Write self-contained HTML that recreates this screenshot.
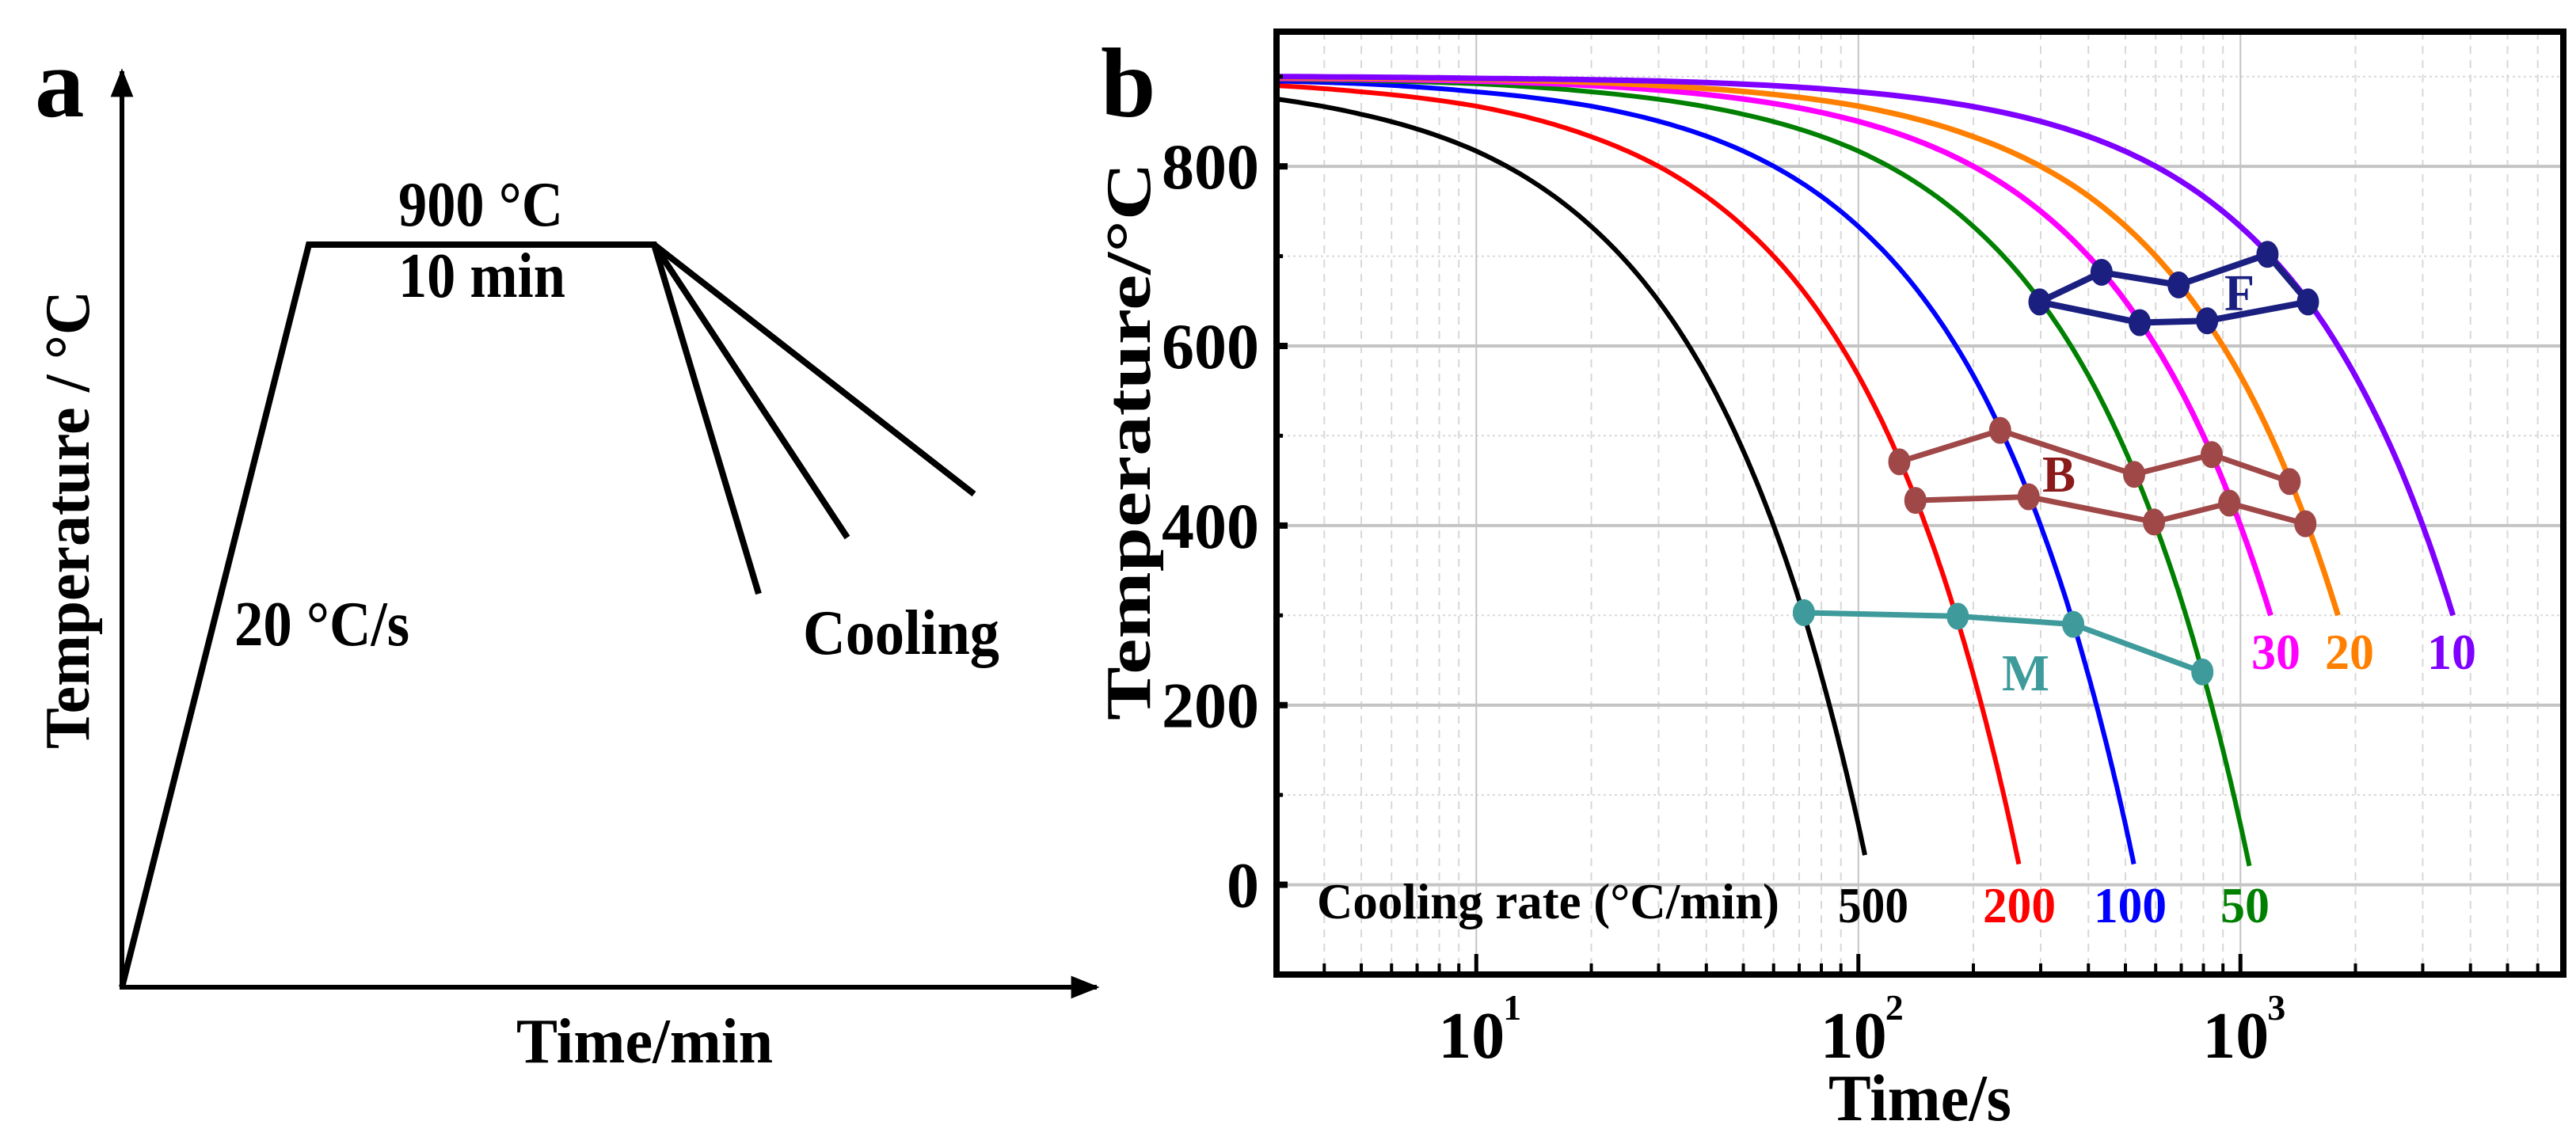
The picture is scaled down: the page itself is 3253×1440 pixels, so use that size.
<!DOCTYPE html>
<html><head><meta charset="utf-8"><style>
html,body{margin:0;padding:0;background:#fff}
svg{display:block}
text{font-family:"Liberation Serif",serif;font-weight:bold}
</style></head><body>
<svg id="fig" width="3253" height="1440" viewBox="0 0 3253 1440" xmlns="http://www.w3.org/2000/svg">
<defs>
<marker id="arr" viewBox="0 0 10 10" refX="9" refY="5" markerWidth="9" markerHeight="6" orient="auto" markerUnits="strokeWidth"><path d="M0,1 L10,5 L0,9 z" fill="#000"/></marker>
</defs>
<g>
 <text x="44" y="147" font-size="125">a</text>
 <line x1="154" y1="1250" x2="154" y2="90" stroke="#000" stroke-width="6" marker-end="url(#arr)"/>
 <line x1="151" y1="1247" x2="1385" y2="1247" stroke="#000" stroke-width="6" marker-end="url(#arr)"/>
 <polyline points="154,1247 390,309 826,309 958,750" fill="none" stroke="#000" stroke-width="8" stroke-linejoin="miter"/>
 <line x1="826" y1="309" x2="1070" y2="679" stroke="#000" stroke-width="8"/>
 <line x1="826" y1="309" x2="1230" y2="624" stroke="#000" stroke-width="8"/>
 <text x="503" y="285" font-size="80" textLength="208" lengthAdjust="spacingAndGlyphs">900 °C</text>
 <text x="503" y="375" font-size="80" textLength="211" lengthAdjust="spacingAndGlyphs">10 min</text>
 <text x="296" y="815" font-size="80" textLength="221" lengthAdjust="spacingAndGlyphs">20 °C/s</text>
 <text x="1014" y="826" font-size="80" textLength="248" lengthAdjust="spacingAndGlyphs">Cooling</text>
 <text x="652" y="1342" font-size="80" textLength="324" lengthAdjust="spacingAndGlyphs">Time/min</text>
 <text transform="translate(112,946) rotate(-90)" font-size="80" textLength="579" lengthAdjust="spacingAndGlyphs">Temperature / °C</text>
</g>
<g id="pb">
 <text x="1390" y="147" font-size="125">b</text>
</g>
</svg>
<script>
const xTicks=[10,100,1000];
const xTickSup=["1","2","3"];
const yTicks=[0,200,400,600,800];
const rates=["500","200","100","50","30","20","10"];
const colors=["#000000","#ff0000","#0000ff","#008000","#ff00ff","#ff8000","#8000ff"];
const t500=[3,5,10,20,30,40,50,60,70,80,90,100,104];
const T500=[875,858,817,733,650,567,483,400,317,233,150,67,33];
const t200=[3,5,10,20,30,50,70,100,130,160,190,220,250,263];
const T200=[890,883,867,833,800,733,667,567,467,367,267,167,67,23];
const t100=[3,5,10,20,50,100,150,200,250,300,350,400,450,500,526];
const T100=[895,892,883,867,817,733,650,567,483,400,317,233,150,67,23];
const t50=[3,10,20,50,100,200,300,400,500,600,700,800,900,1000,1055];
const T50=[897,892,883,858,817,733,650,567,483,400,317,233,150,67,21];
const t30=[3,10,30,100,200,300,400,500,600,700,800,900,1000,1100,1200];
const T30=[898,895,885,850,800,750,700,650,600,550,500,450,400,350,300];
const t20=[3,10,30,100,200,400,600,800,1000,1200,1400,1600,1800];
const T20=[899,897,890,867,833,767,700,633,567,500,433,367,300];
const t10=[3,10,30,100,300,600,1000,1400,1800,2200,2600,3000,3300,3600];
const T10=[900,898,895,883,850,800,733,667,600,533,467,400,350,300];
const fTop_t=[298,433,689,1177];const fTop_T=[649,682,668,702];
const fBot_t=[298,545,818,1502];const fBot_T=[649,626,628,649];
const bTop_t=[128,235,527,841,1345];const bTop_T=[471,506,457,479,449];
const bBot_t=[141,279,594,935,1479];const bBot_T=[428,432,404,425,402];
const m_t=[72,182,365,795];const m_T=[303,299,290,237];

const NS="http://www.w3.org/2000/svg";
const g=document.getElementById('pb');
const L=1612,R=3237,Tp=40,B=1231;
const xmin=3,xmax=7000,ymin=-100,ymax=950;
function sx(t){return L+(Math.log10(t)-Math.log10(xmin))/(Math.log10(xmax)-Math.log10(xmin))*(R-L);}
function sy(v){return B-(v-ymin)/(ymax-ymin)*(B-Tp);}
function mk(tag,attrs){const e=document.createElementNS(NS,tag);for(const k in attrs)e.setAttribute(k,attrs[k]);g.appendChild(e);return e;}
for(let d=1;d<=1000;d*=10){for(let k=2;k<=9;k++){const t=d*k;if(t<xmin||t>xmax)continue;const e=mk('line',{x1:sx(t),x2:sx(t),y1:Tp,y2:B,stroke:'#d8d8d8','stroke-width':2,'stroke-dasharray':'10,8'});

}}
for(let v=-100;v<=900;v+=200){const e=mk('line',{x1:L,x2:R,y1:sy(v),y2:sy(v),stroke:'#d8d8d8','stroke-width':2,'stroke-dasharray':'3,4'});

}
xTicks.forEach(t=>{const e=mk('line',{x1:sx(t),x2:sx(t),y1:Tp,y2:B,stroke:'#c4c4c4','stroke-width':2});

});
yTicks.forEach(v=>{const e=mk('line',{x1:L,x2:R,y1:sy(v),y2:sy(v),stroke:'#c4c4c4','stroke-width':4});

});
const ts=[t500,t200,t100,t50,t30,t20,t10],Ts=[T500,T200,T100,T50,T30,T20,T10];
ts.forEach((tt,i)=>{const TT=Ts[i];let pts=[];
 for(let j=0;j<tt.length-1;j++){for(let s=0;s<20;s++){const f=s/20;pts.push(sx(tt[j]+(tt[j+1]-tt[j])*f).toFixed(1)+','+sy(TT[j]+(TT[j+1]-TT[j])*f).toFixed(1));}}
 pts.push(sx(tt[tt.length-1]).toFixed(1)+','+sy(TT[TT.length-1]).toFixed(1));
 const e=mk('polyline',{points:pts.join(' '),fill:'none',stroke:colors[i],'stroke-width':i<4?6:7});
 
 
});
function series(tt,TT,col,name,w){const pts=tt.map((t,j)=>sx(t)+','+sy(TT[j])).join(' ');
 const e=mk('polyline',{points:pts,fill:'none',stroke:col,'stroke-width':w});
 
 
 tt.forEach((t,j)=>{const c=mk('ellipse',{cx:sx(t),cy:sy(TT[j]),rx:13,ry:16,fill:col,stroke:col,'stroke-width':2});
 
 });}
series(fTop_t,fTop_T,'#1a1f80','ferrite-upper',8);
series(fBot_t,fBot_T,'#1a1f80','ferrite-lower',8);
const fc=mk('line',{x1:sx(fTop_t[3]),y1:sy(fTop_T[3]),x2:sx(fBot_t[3]),y2:sy(fBot_T[3]),stroke:'#1a1f80','stroke-width':8});


series(bTop_t,bTop_T,'#a04848','bainite-upper',7);
series(bBot_t,bBot_T,'#a04848','bainite-lower',7);
series(m_t,m_T,'#3f9b9b','martensite',7);
const fr=mk('rect',{x:L,y:Tp,width:R-L,height:B-Tp,fill:'none',stroke:'#000','stroke-width':8});


for(let d=1;d<=1000;d*=10){for(let k=1;k<=9;k++){const t=d*k;if(t<xmin||t>xmax)continue;const len=k==1?26:14;const e=mk('line',{x1:sx(t),x2:sx(t),y1:B,y2:B-len,stroke:'#000','stroke-width':k==1?5:4});

}}
for(let v=-100;v<=900;v+=100){const e=mk('line',{x1:L,x2:L+(v%200==0?14:8),y1:sy(v),y2:sy(v),stroke:'#000','stroke-width':v%200==0?8:5});

}
yTicks.forEach(v=>{const e=mk('text',{x:L-22,y:sy(v)+28,'font-size':82,'text-anchor':'end'});e.textContent=v;

});
xTicks.forEach((t,i)=>{const e=mk('text',{x:sx(t)-48,y:1336,'font-size':84});e.textContent='10';


const s=mk('text',{x:sx(t)+34,y:1288,'font-size':46});s.textContent=xTickSup[i];

});
function lbl(txt,x,y,fs,col,name,w){const e=mk('text',{x:x,y:y,'font-size':fs,fill:col});if(w){e.setAttribute('textLength',w);e.setAttribute('lengthAdjust','spacingAndGlyphs');}e.textContent=txt;

return e;}
lbl('Time/s',2309,1415,84,'#000','x-axis-title',231);
const yt=mk('text',{transform:'translate(1452,910) rotate(-90)','font-size':80,textLength:705,lengthAdjust:'spacingAndGlyphs'});yt.textContent='Temperature/°C';


lbl('Cooling rate (°C/min)',1663,1160,64,'#000','cooling-rate-title',584);
lbl('500',2321,1165,64,'#000','rate-label-500',89);
lbl('200',2504,1165,64,'#ff0000','rate-label-200',92);
lbl('100',2644,1165,64,'#0000ff','rate-label-100',92);
lbl('50',2804,1165,64,'#008000','rate-label-50',62);
lbl('30',2843,845,64,'#ff00ff','rate-label-30',62);
lbl('20',2936,845,64,'#ff8000','rate-label-20',62);
lbl('10',3065,845,64,'#8000ff','rate-label-10',62);
lbl('F',2809,392,66,'#1a1f80','ferrite-label',38);
lbl('B',2579,621,66,'#8b1a1a','bainite-label',42);
lbl('M',2528,872,66,'#3f9b9b','martensite-label',60);
</script>
</body></html>
